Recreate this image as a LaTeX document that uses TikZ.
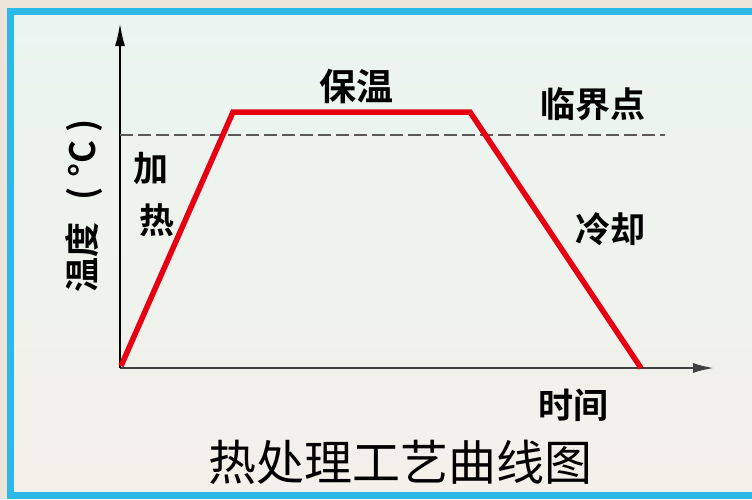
\documentclass[tikz,border=0pt]{standalone}
\usepackage{fontspec}
\newfontfamily\cjk{Noto Sans CJK SC}
\newfontfamily\cjkb{Noto Sans CJK SC Bold}
\usetikzlibrary{arrows.meta}
\definecolor{outerbg}{HTML}{EDE4DA}
\definecolor{frameblue}{HTML}{2DB9E8}
\definecolor{topfill}{HTML}{EAF5F1}
\definecolor{botfill}{HTML}{F4F0EA}
\definecolor{curvered}{HTML}{E60012}
\tikzset{
  lbl/.style={font=\cjkb\fontsize{35}{35}\selectfont, inner sep=0pt},
  axisline/.style={line width=2.8pt},
  curve/.style={draw=curvered, line width=5.5pt, line join=miter},
}
\begin{document}
\begin{tikzpicture}[x=1pt,y=-1pt]
\useasboundingbox (0,0) rectangle (752,499);
\fill[outerbg] (0,0) rectangle (752,499);
\shade[top color=topfill, bottom color=botfill] (10,11) rectangle (752,495);
\draw[frameblue, line width=7pt] (10,11) rectangle (760,495);
% axes
\coordinate (O) at (120,368);
\coordinate (Ytop) at (120,22);
\coordinate (Xend) at (715,368);
\draw[axisline, draw=black!75, -{Latex[length=22pt,width=10pt]}] (O) -- (Xend);
\draw[axisline, -{Latex[length=24pt,width=10pt]}] (O) -- (Ytop);
% critical dashed line
\coordinate (D1) at (120,135);
\coordinate (D2) at (665,135);
\draw[draw=black!65, line width=1.4pt, dash pattern=on 13pt off 5pt] (D1) -- (D2);
% curve
\coordinate (A) at (121,366);
\coordinate (B) at (233,112);
\coordinate (C) at (470,112);
\coordinate (E) at (641,368);
\draw[curve] (A) -- (B) -- (C) -- (E);
% labels
\node[lbl, font=\cjkb\fontsize{37}{37}\selectfont] (bw) at (356,86) {保温};
\node[lbl] (ljd) at (593,104) {临界点};
\node[lbl] (lq) at (610,229) {冷却};
\node[lbl] (jia) at (151,168) {加};
\node[lbl] (re) at (157,220) {热};
\node[lbl] (sj) at (573,405) {时间};
\node[lbl, rotate=90] (wd) at (84,206) {温度\hspace{22pt}(\hspace{10pt}°C\hspace{8pt})};
\node[inner sep=0pt, font=\cjk\fontsize{48}{48}\selectfont] (title) at (400,462) {热处理工艺曲线图};
\end{tikzpicture}
\end{document}
